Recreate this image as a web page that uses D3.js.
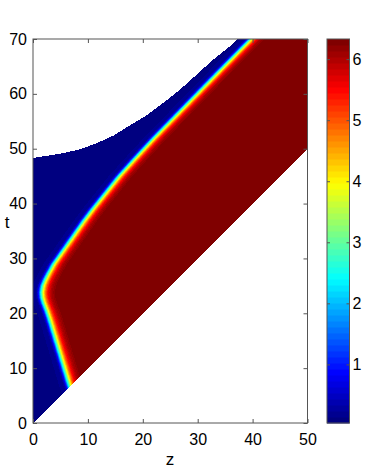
<!DOCTYPE html>
<html>
<head>
<meta charset="utf-8">
<script src="https://cdn.jsdelivr.net/npm/d3@7"></script>
<style>
  body { margin: 0; background: #fff; }
  svg text { font-family: "Liberation Sans", Arial, Helvetica, sans-serif; fill: #000; }
</style>
</head>
<body>
<div id="chart"></div>
<script>
// axis ticks
const xTicks = [0, 10, 20, 30, 40, 50];
const yTicks = [0, 10, 20, 30, 40, 50, 60, 70];
const cTicks = [1, 2, 3, 4, 5, 6];

// centre of the blue->red front (yellow line)
const frontT = [0, 7, 9, 11.5, 14, 17, 19, 20.5, 21.8, 22.8, 23.8, 25, 26, 27, 29, 31, 33, 35, 37, 39, 41, 43, 45, 48, 52, 56, 60, 64, 70];
const frontZ = [9.4, 6.9, 6.3, 5.55, 4.8, 3.9, 3.3, 2.8, 2.3, 2.0, 1.9, 2.1, 2.5, 3.0, 4.1, 5.5, 6.9, 8.3, 9.7, 11.2, 12.8, 14.4, 16.0, 18.7, 22.4, 26.3, 30.2, 34.1, 40.0];

// upper edge of the computed region
const topZ = [0, 5.5, 8.6, 11.6, 14.65, 17.7, 20.7, 23.8, 26.8, 29.9, 32.9, 35.9, 37.2, 50];
const topT = [48.3, 49.2, 49.9, 51.0, 52.4, 54.3, 56.1, 58.4, 60.8, 63.6, 66.3, 68.7, 69.9, 81];

// value across the front (offset in z from the front centre -> value)
const profileDz = [-3.0, -1.3, -0.9, -0.55, 0, 0.4, 0.8, 1.4, 2.4];
const profileVal = [0.04, 0.25, 1.0, 2.3, 4.0, 4.9, 5.5, 6.0, 6.33];

const colorDomain = [0.04, 6.33];

function renderChart() {
    const width = 382;
    const height = 472;
    const plot = { left: 33, right: 307.5, top: 39, bottom: 423 };
    const bar = { left: 327, right: 349.5 };

    const x = d3.scaleLinear().domain([0, 50]).range([plot.left, plot.right]);
    const y = d3.scaleLinear().domain([0, 70]).range([plot.bottom, plot.top]);
    const c = d3.scaleLinear().domain(colorDomain).range([plot.bottom, plot.top]);

    const front = d3.scaleLinear().domain(frontT).range(frontZ).clamp(true);
    const upper = d3.scaleLinear().domain(topZ).range(topT);
    const profile = d3.scaleLinear().domain(profileDz).range(profileVal).clamp(true);

    // jet colormap, 64 levels
    const jet = d3.scaleLinear()
        .domain([0, 0.125, 0.375, 0.625, 0.875, 1])
        .range(["#000080", "#0000ff", "#00ffff", "#ffff00", "#ff0000", "#800000"])
        .interpolate(d3.interpolateRgb);
    const nLevels = 64;
    const levels = d3.range(nLevels).map((k) => d3.rgb(jet(k / (nLevels - 1))));
    const level = (v) => {
        const u = (v - colorDomain[0]) / (colorDomain[1] - colorDomain[0]);
        return Math.max(0, Math.min(nLevels - 1, Math.floor(u * nLevels)));
    };

    const svg = d3.select("#chart").append("svg")
        .attr("width", width)
        .attr("height", height);

    // field image
    const W = Math.round(plot.right - plot.left);
    const H = Math.round(plot.bottom - plot.top);
    const canvas = document.createElement("canvas");
    canvas.width = W;
    canvas.height = H;
    const ctx = canvas.getContext("2d");
    const img = ctx.createImageData(W, H);
    for (let j = 0; j < H; j++) {
        const t = y.invert(plot.top + j + 0.5);
        const zf = front(t);
        for (let i = 0; i < W; i++) {
            const z = x.invert(plot.left + i + 0.5);
            if (t < z || t > upper(z)) continue;
            const col = levels[level(profile(z - zf))];
            const p = (j * W + i) * 4;
            img.data[p] = col.r;
            img.data[p + 1] = col.g;
            img.data[p + 2] = col.b;
            img.data[p + 3] = 255;
        }
    }
    ctx.putImageData(img, 0, 0);

    svg.append("image")
        .attr("x", plot.left)
        .attr("y", plot.top)
        .attr("width", W)
        .attr("height", H)
        .attr("preserveAspectRatio", "none")
        .style("image-rendering", "pixelated")
        .attr("href", canvas.toDataURL());

    const axisColor = "#555";
    const styleAxis = (g) => {
        g.select(".domain").remove();
        g.selectAll(".tick line").attr("stroke", axisColor);
        g.selectAll(".tick text").attr("font-size", 16).attr("fill", "#000");
    };

    svg.append("g")
        .attr("transform", `translate(0,${plot.bottom})`)
        .call(d3.axisBottom(x).tickValues(xTicks).tickSize(-4).tickPadding(11))
        .call(styleAxis);
    svg.append("g")
        .attr("transform", `translate(0,${plot.top})`)
        .call(d3.axisTop(x).tickValues(xTicks).tickSize(-4).tickFormat(""))
        .call(styleAxis);
    svg.append("g")
        .attr("transform", `translate(${plot.left},0)`)
        .call(d3.axisLeft(y).tickValues(yTicks).tickSize(-4).tickPadding(6))
        .call(styleAxis);
    svg.append("g")
        .attr("transform", `translate(${plot.right},0)`)
        .call(d3.axisRight(y).tickValues(yTicks).tickSize(-4).tickFormat(""))
        .call(styleAxis);

    svg.append("rect")
        .attr("x", plot.left)
        .attr("y", plot.top)
        .attr("width", plot.right - plot.left)
        .attr("height", plot.bottom - plot.top)
        .attr("fill", "none")
        .attr("stroke", axisColor)
        .attr("stroke-width", 1);

    svg.append("text")
        .attr("x", 170)
        .attr("y", 465)
        .attr("text-anchor", "middle")
        .attr("font-size", 17)
        .text("z");
    svg.append("text")
        .attr("x", 7)
        .attr("y", 228)
        .attr("text-anchor", "middle")
        .attr("font-size", 17)
        .text("t");

    // colorbar
    const step = (colorDomain[1] - colorDomain[0]) / nLevels;
    svg.append("g")
        .selectAll("rect")
        .data(levels)
        .join("rect")
        .attr("x", bar.left)
        .attr("width", bar.right - bar.left)
        .attr("y", (d, k) => c(colorDomain[0] + (k + 1) * step))
        .attr("height", (d, k) => c(colorDomain[0] + k * step) - c(colorDomain[0] + (k + 1) * step) + 0.5)
        .attr("fill", (d) => d.toString());

    svg.append("g")
        .attr("transform", `translate(${bar.right},0)`)
        .call(d3.axisRight(c).tickValues(cTicks).tickSize(-3).tickPadding(3).tickFormat(d3.format("d")))
        .call(styleAxis);
    svg.append("g")
        .attr("transform", `translate(${bar.left},0)`)
        .call(d3.axisLeft(c).tickValues(cTicks).tickSize(-3).tickFormat(""))
        .call(styleAxis);
    svg.append("rect")
        .attr("x", bar.left)
        .attr("y", plot.top)
        .attr("width", bar.right - bar.left)
        .attr("height", plot.bottom - plot.top)
        .attr("fill", "none")
        .attr("stroke", axisColor)
        .attr("stroke-width", 1);
}

renderChart();
</script>
</body>
</html>
